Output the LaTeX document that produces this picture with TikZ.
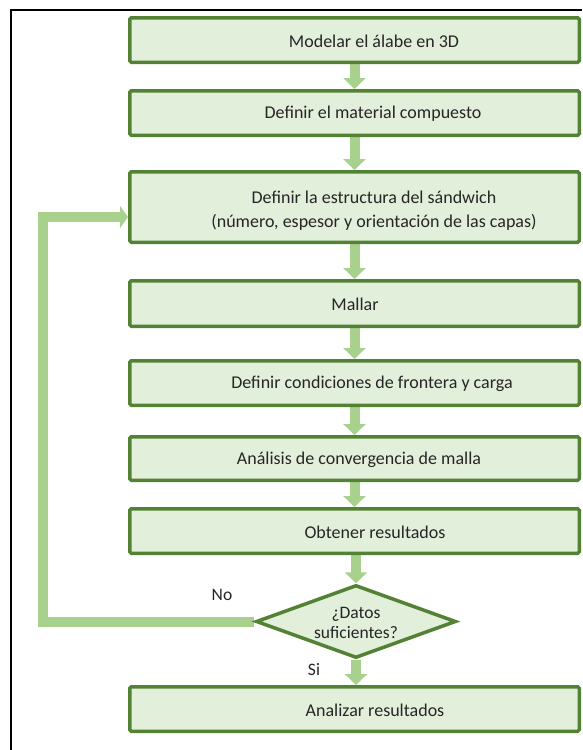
\documentclass[tikz,border=0pt]{standalone}
\usepackage{fontspec}
\setmainfont{Carlito}
\usetikzlibrary{shapes.geometric,arrows.meta,backgrounds}
\definecolor{lgreen}{HTML}{E2EFDA}
\definecolor{dgreen}{HTML}{548235}
\definecolor{agreen}{HTML}{A9D18E}
\begin{document}
\begin{tikzpicture}[x=1pt,y=-1pt,
  box/.style={draw=dgreen, fill=lgreen, line width=3.5pt, rounded corners=1.5pt,
    minimum width=449.5pt, minimum height=#1, inner sep=0pt},
  txt/.style={font=\fontsize{18}{24}\selectfont, align=center, inner sep=0pt, text=black!85},
  small/.style={font=\fontsize{17.5}{20}\selectfont},
  flow/.style={agreen, line width=10pt, -{Triangle[width=22pt,length=11pt]}},
  back/.style={agreen, line width=10pt, line join=miter, -{Triangle[width=22pt,length=8pt]}},
  dec/.style={diamond, draw=dgreen, fill=lgreen, line width=3.5pt, inner sep=0pt,
    minimum width=200pt, minimum height=73pt}
]
\useasboundingbox (0,0) rectangle (582,750);
% frame
\draw[line width=2.2pt, black] (11,750) -- (11,10) -- (582,10);
% boxes
\node[box=44.5pt] (b1) at (354.5,40) {};
\node[box=44.5pt] (b2) at (354.5,113) {};
\node[box=70.5pt] (b3) at (354.5,207) {};
\node[box=45.5pt] (b4) at (354.5,303.5) {};
\node[box=44.5pt] (b5) at (354.5,383) {};
\node[box=43.5pt] (b6) at (354.5,458.5) {};
\node[box=44.5pt] (b7) at (354.5,531) {};
\node[box=44.5pt] (b8) at (354.5,709) {};
\node[dec] (d) at (356,621.5) {};
% texts
\node[txt] (t1) at (374,41) {Modelar el álabe en 3D};
\node[txt] (t2) at (373,114) {Definir el material compuesto};
\node[txt] (t3) at (374,211) {Definir la estructura del sándwich\\(número, espesor y orientación de las capas)};
\node[txt] (t4) at (355,304.5) {Mallar};
\node[txt] (t5) at (372,384) {Definir condiciones de frontera y carga};
\node[txt] (t6) at (359,459.5) {Análisis de convergencia de malla};
\node[txt] (t7) at (375,532) {Obtener resultados};
\node[txt] (t8) at (375,710) {Analizar resultados};
\node[txt, small] (td) at (356,623) {¿Datos\\suficientes?};
\node[txt, small] (no) at (222,595) {No};
\node[txt, small] (si) at (314,670) {Si};
% connectors
\coordinate (lp) at (43,217);
\begin{pgfonlayer}{background}
\draw[flow] (b1.south) -- (b2.north);
\draw[flow] (b2.south) -- (b3.north);
\draw[flow] (b3.south) -- (b4.north);
\draw[flow] (b4.south) -- (b5.north);
\draw[flow] (b5.south) -- (b6.north);
\draw[flow] (b6.south) -- (b7.north);
\draw[flow] (b7.south -| d.north) -- (d.north);
\draw[flow] (d.south) -- (d.south |- b8.north);
\draw[back] (d.west) -- (d.west -| lp) -- (lp) -- (lp -| b3.west);
\end{pgfonlayer}
\end{tikzpicture}
\end{document}
